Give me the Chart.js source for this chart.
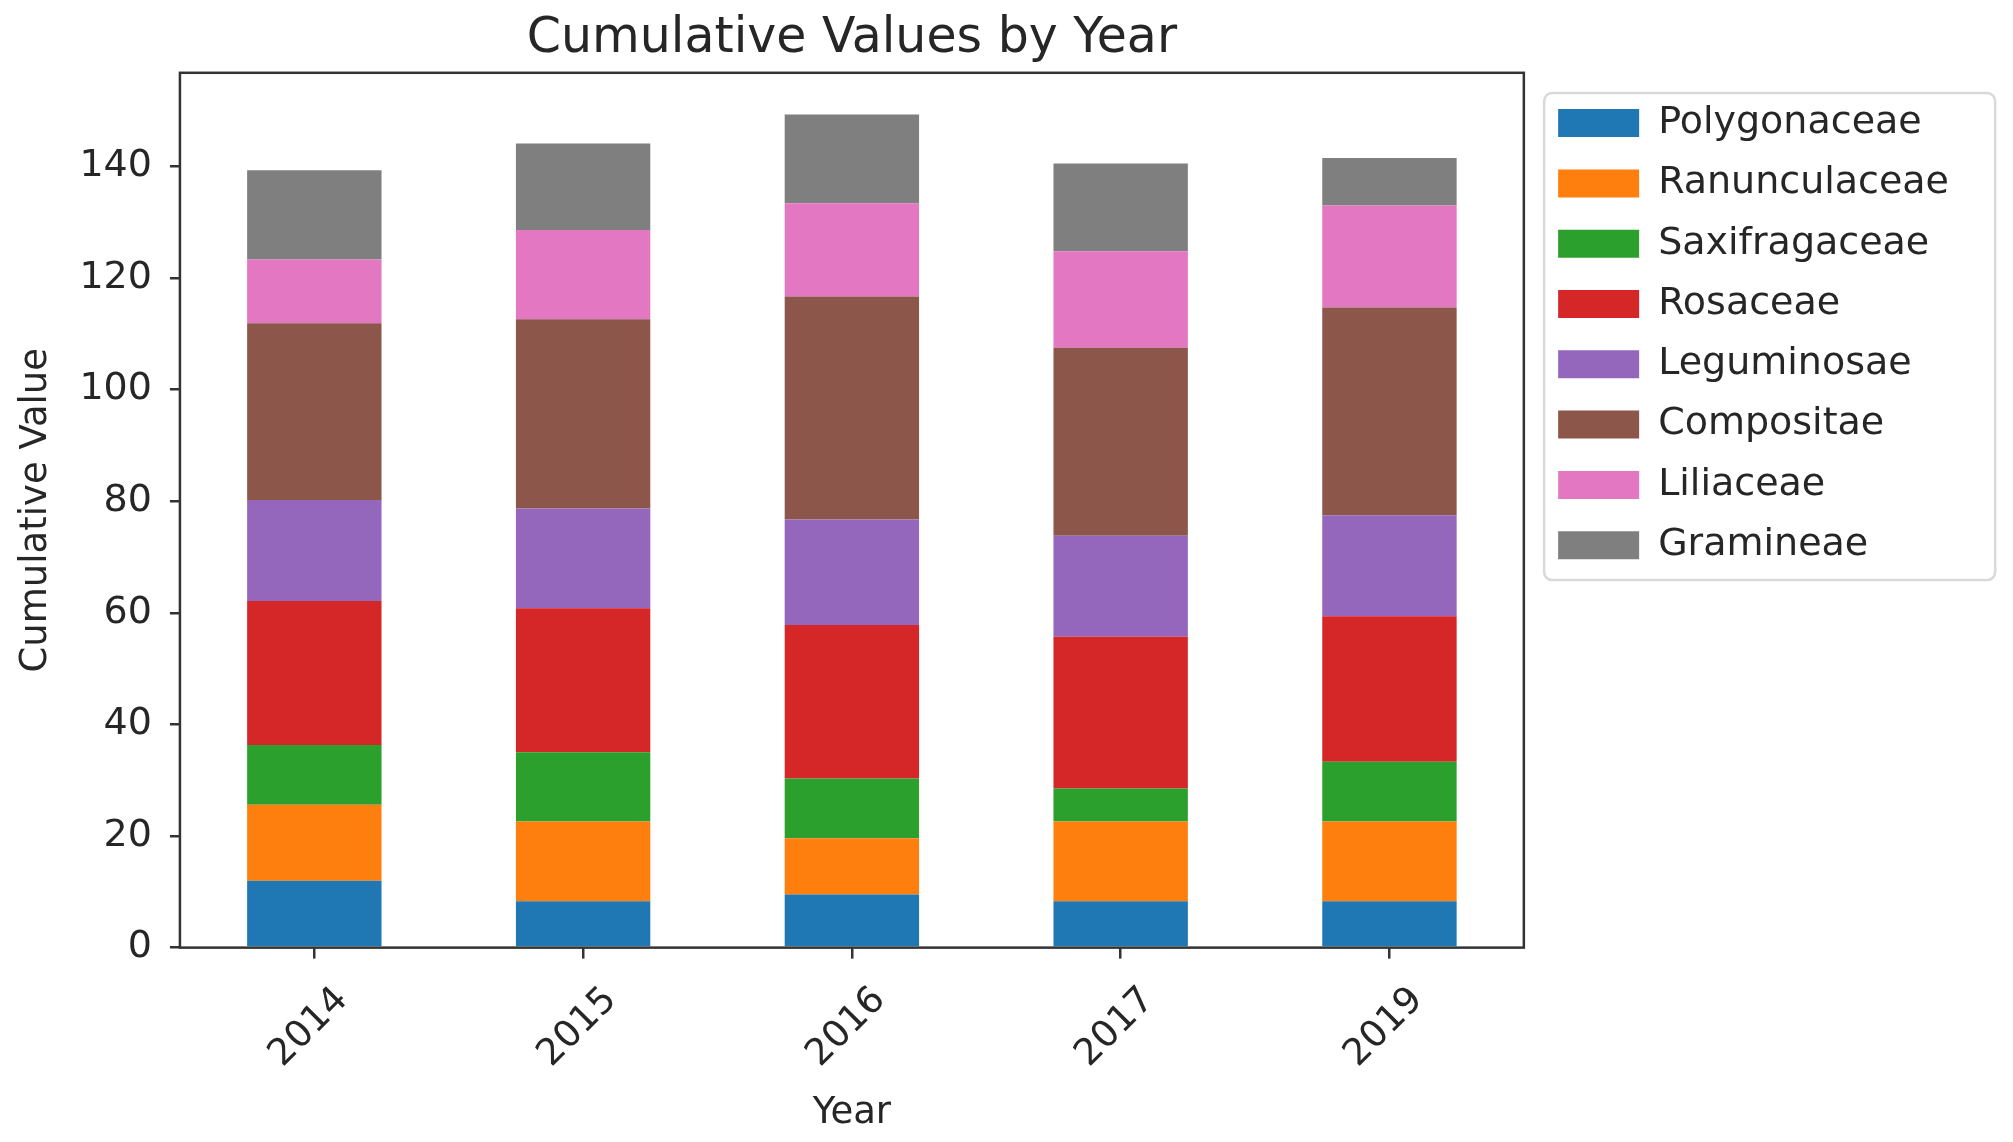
<!DOCTYPE html>
<html>
<head>
<meta charset="utf-8">
<script src="https://cdn.jsdelivr.net/npm/chart.js@4.4.1/dist/chart.umd.min.js"></script>
<style>
  html, body { margin: 0; padding: 0; background: #fff; }
  #wrap { width: 2013px; height: 1142px; }
</style>
</head>
<body>
<div id="wrap"><canvas id="mycanvas" width="2013" height="1142"></canvas></div>
<script>
// values, one array per family (bottom to top)
var years = ['2014', '2015', '2016', '2017', '2019'];
var families = ['Polygonaceae', 'Ranunculaceae', 'Saxifragaceae', 'Rosaceae',
                'Leguminosae', 'Compositae', 'Liliaceae', 'Gramineae'];
var polygonaceae  = [12.0, 8.3, 9.5, 8.3, 8.3];
var ranunculaceae = [13.6, 14.3, 10.1, 14.3, 14.3];
var saxifragaceae = [10.7, 12.4, 10.7, 5.9, 10.7];
var rosaceae      = [25.8, 25.8, 27.5, 27.2, 26.1];
var leguminosae   = [18.1, 17.9, 18.9, 18.1, 18.1];
var compositae    = [31.7, 33.9, 40.0, 33.7, 37.2];
var liliaceae     = [11.4, 16.0, 16.7, 17.3, 18.3];
var gramineae     = [16.0, 15.5, 15.9, 15.7, 8.5];
var yTicks = [0, 20, 40, 60, 80, 100, 120, 140];

var colors = ['#1f77b4', '#ff7f0e', '#2ca02c', '#d62728',
              '#9467bd', '#8c564b', '#e377c2', '#7f7f7f'];
var series = [polygonaceae, ranunculaceae, saxifragaceae, rosaceae,
              leguminosae, compositae, liliaceae, gramineae];

// top of the axis like matplotlib: tallest stack plus 5% margin
var totals = years.map(function (y, i) {
  var s = 0;
  for (var k = 0; k < series.length; k++) s += series[k][i];
  return s;
});
var yMax = Math.max.apply(null, totals) * 1.05;

var FONT = "'DejaVu Sans', 'Liberation Sans', sans-serif";
var INK = '#262626';
var SPINE = '#333333';
var LEG_PAD = 22.3;

var datasets = [];
for (var i = 0; i < families.length; i++) {
  datasets.push({
    label: families[i],
    data: series[i],
    backgroundColor: colors[i],
    borderWidth: 0,
    barPercentage: 0.5,
    categoryPercentage: 1.0
  });
}

// frame round the plot and round the legend, and the legend nudge
var framePlugin = {
  id: 'frame',
  afterLayout: function (chart) {
    var lg = chart.legend;
    lg.left += 12;
    lg.top += 9;
  },
  afterDatasetsDraw: function (chart) {
    var a = chart.chartArea, ctx = chart.ctx;
    ctx.save();
    ctx.strokeStyle = SPINE;
    ctx.lineWidth = 2.5;
    ctx.strokeRect(a.left, a.top, a.right - a.left, a.bottom - a.top);
    ctx.restore();
  },
  afterDraw: function (chart) {
    var lg = chart.legend, ctx = chart.ctx;
    var x = lg.left + LEG_PAD - 14, y = lg.top + LEG_PAD + 5 - 16;
    var w = 451, h = 487, r = 8;
    ctx.save();
    ctx.strokeStyle = '#d9d9d9';
    ctx.lineWidth = 2.5;
    ctx.beginPath();
    ctx.moveTo(x + r, y);
    ctx.arcTo(x + w, y, x + w, y + h, r);
    ctx.arcTo(x + w, y + h, x, y + h, r);
    ctx.arcTo(x, y + h, x, y, r);
    ctx.arcTo(x, y, x + w, y, r);
    ctx.closePath();
    ctx.stroke();
    ctx.restore();
  }
};

var ctx = document.getElementById('mycanvas');
var myChart = new Chart(ctx, {
  type: 'bar',
  data: { labels: years, datasets: datasets },
  plugins: [framePlugin],
  options: {
    responsive: false,
    animation: false,
    events: [],
    devicePixelRatio: 1,
    layout: { padding: { top: 0, right: 66, bottom: 0, left: 0 } },
    plugins: {
      title: {
        display: true,
        text: 'Cumulative Values by Year',
        color: INK,
        fullSize: false,
        font: { family: FONT, size: 49, weight: 'normal' },
        padding: { top: 10, bottom: 4 }
      },
      legend: {
        display: true,
        position: 'right',
        align: 'start',
        fullSize: false,
        labels: {
          boxWidth: 81,
          boxHeight: 28,
          padding: LEG_PAD,
          color: INK,
          font: { family: FONT, size: 38 }
        }
      },
      tooltip: { enabled: false }
    },
    scales: {
      x: {
        stacked: true,
        offset: true,
        border: { display: false },
        grid: {
          offset: false,
          drawOnChartArea: false,
          drawTicks: true,
          tickLength: 11,
          tickColor: SPINE,
          lineWidth: 2.5
        },
        ticks: {
          color: INK,
          font: { family: FONT, size: 37 },
          minRotation: 45,
          maxRotation: 45,
          padding: 20,
          labelOffset: 28
        },
        title: {
          display: true,
          text: 'Year',
          color: INK,
          font: { family: FONT, size: 37 },
          padding: { top: -5, bottom: 6 }
        }
      },
      y: {
        stacked: true,
        min: 0,
        max: yMax,
        border: { display: false },
        grid: {
          drawOnChartArea: false,
          drawTicks: true,
          tickLength: 10,
          tickColor: SPINE,
          lineWidth: 2.5
        },
        afterBuildTicks: function (scale) {
          scale.ticks = yTicks.map(function (v) { return { value: v }; });
        },
        ticks: {
          color: INK,
          font: { family: FONT, size: 38 },
          padding: 18
        },
        title: {
          display: true,
          text: 'Cumulative Value',
          color: INK,
          font: { family: FONT, size: 37 },
          padding: { top: 14, bottom: 3 }
        }
      }
    }
  }
});
</script>
</body>
</html>
